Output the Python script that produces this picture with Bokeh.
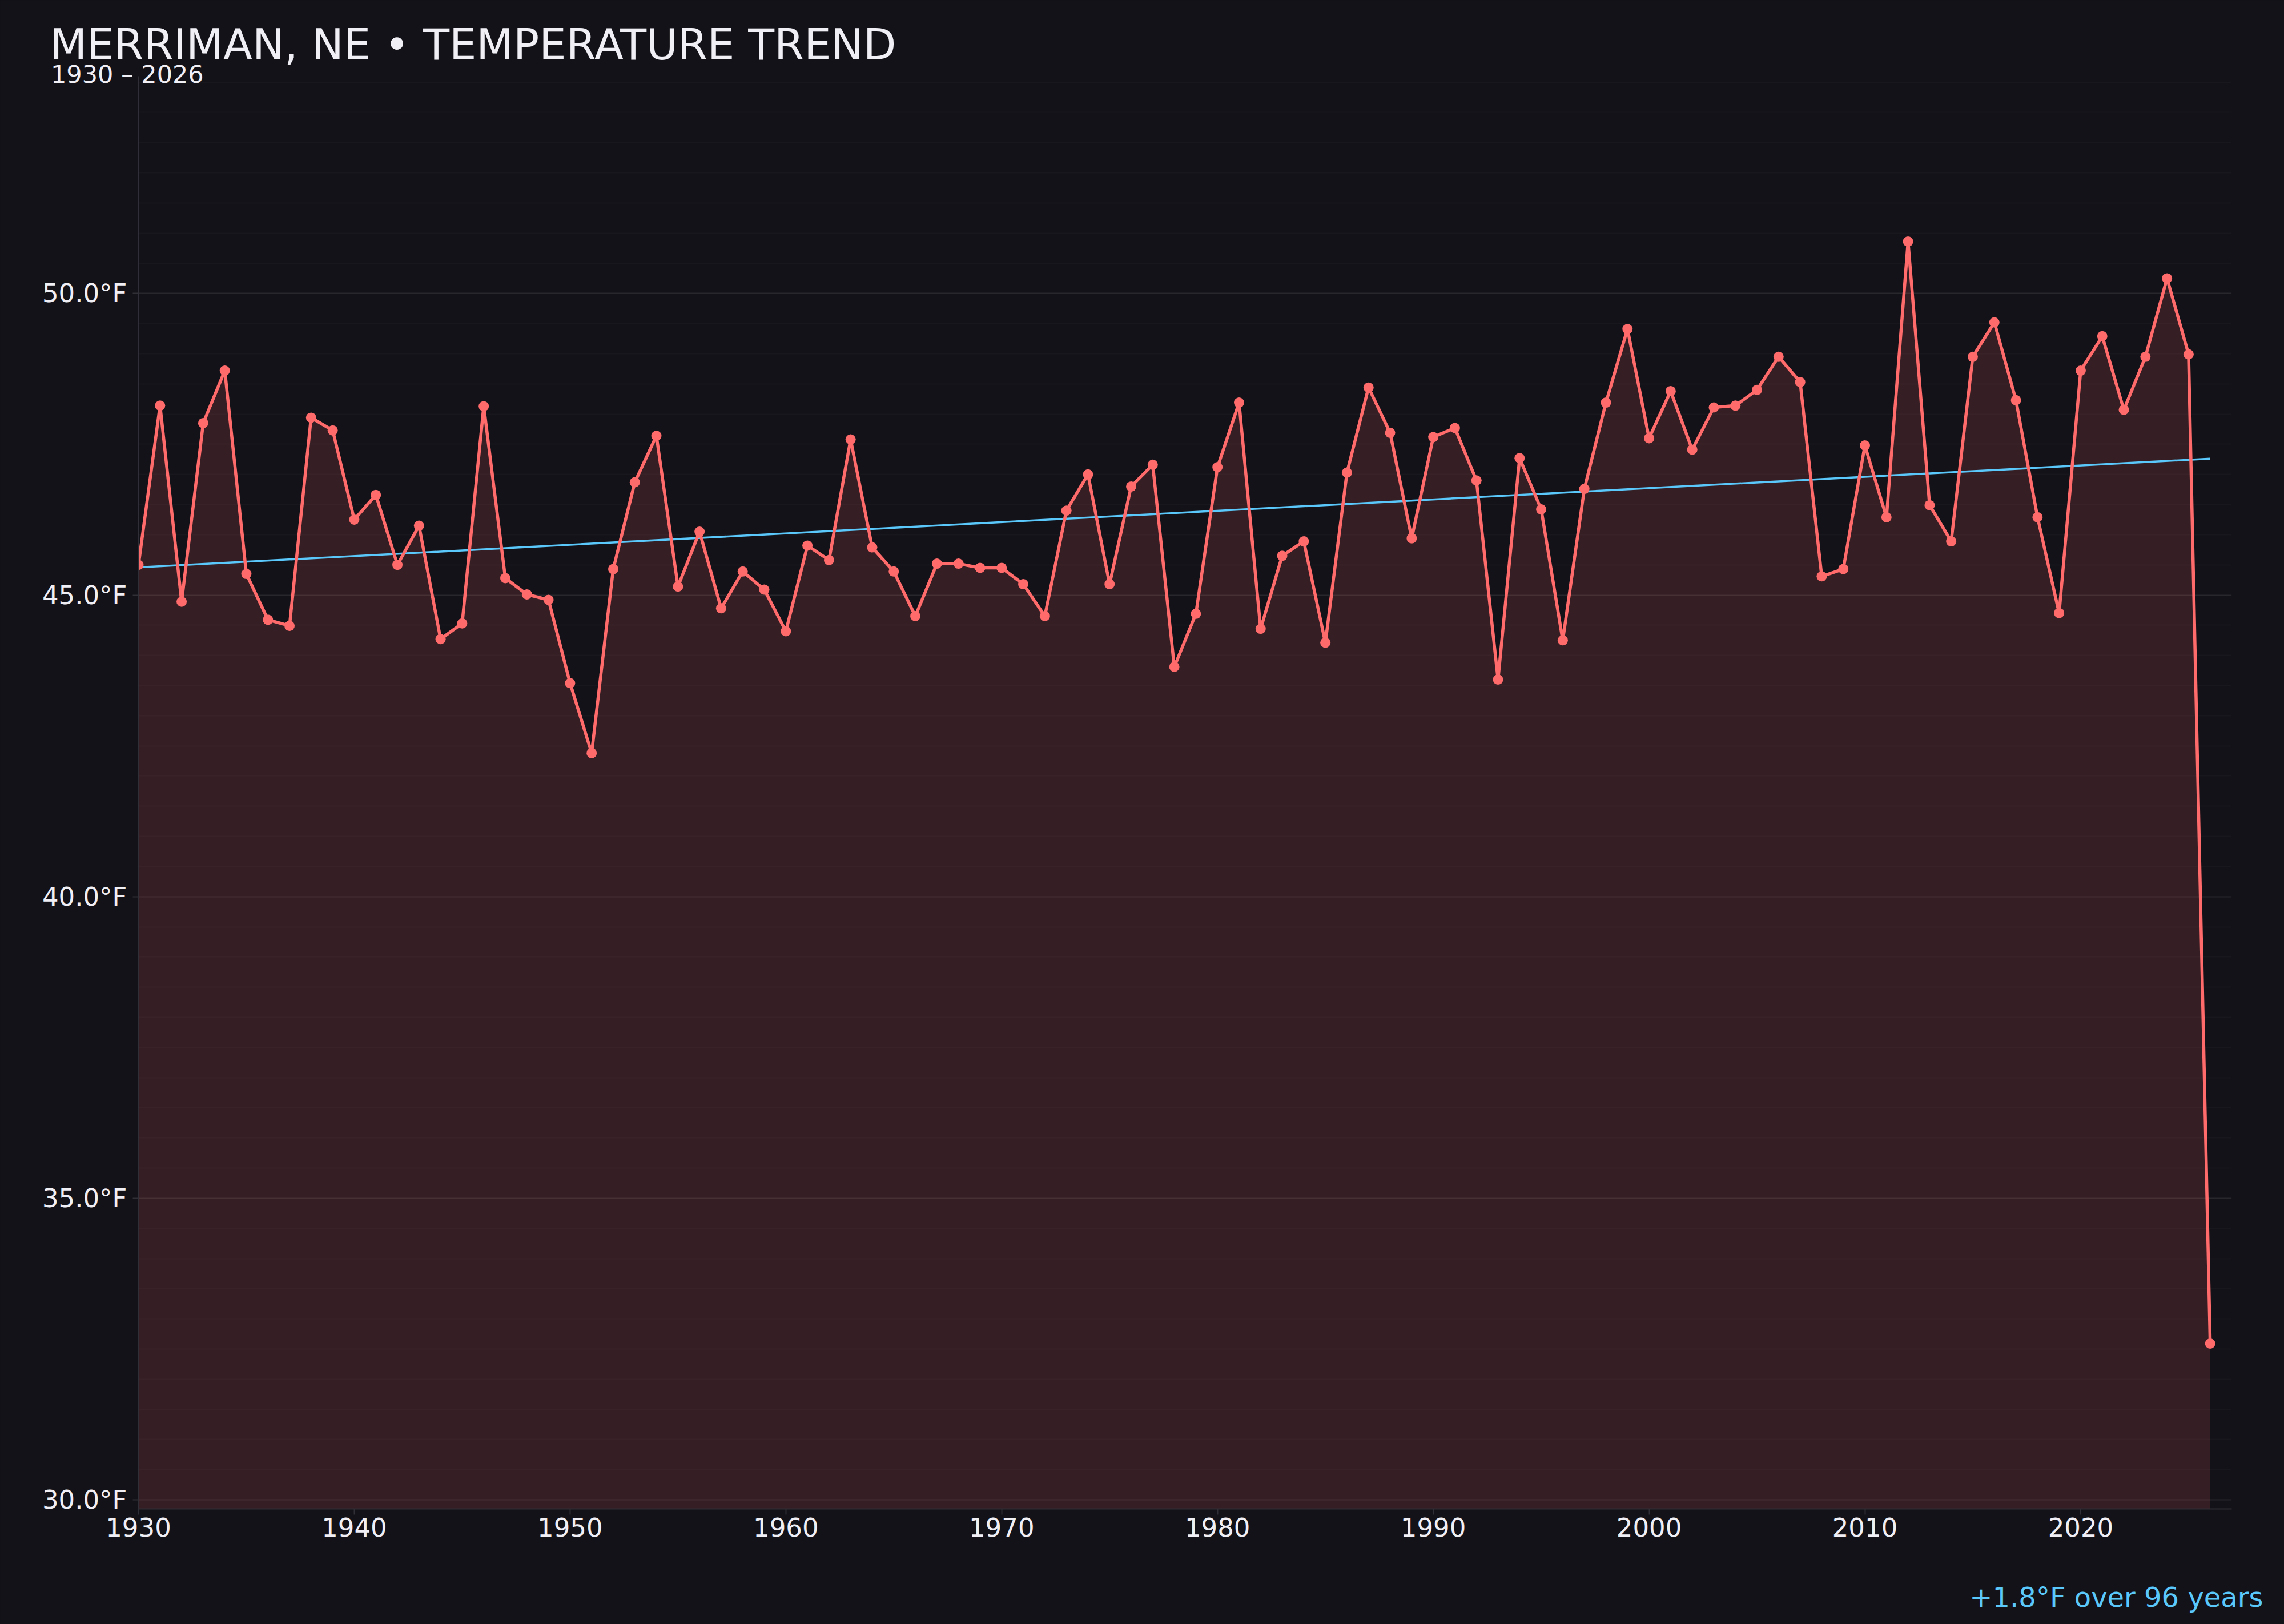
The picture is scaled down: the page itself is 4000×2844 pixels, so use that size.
import numpy as np
from bokeh.plotting import figure
from bokeh.models import (ColumnDataSource, Range1d, SingleIntervalTicker,
                          PrintfTickFormatter, Title)
from bokeh.embed import file_html
from bokeh.resources import INLINE

# ---------------- data ----------------
years = list(range(1930, 2027))
temps = [
    45.50, 48.14, 44.89, 47.85, 48.72, 45.35, 44.59, 44.49, 47.94, 47.73,  # 1930-39
    46.25, 46.66, 45.50, 46.15, 44.27, 44.53, 48.13, 45.28, 45.01, 44.92,  # 1940-49
    43.54, 42.38, 45.43, 46.87, 47.64, 45.14, 46.05, 44.78, 45.39, 45.09,  # 1950-59
    44.40, 45.82, 45.58, 47.58, 45.79, 45.39, 44.65, 45.52, 45.52, 45.45,  # 1960-69
    45.45, 45.18, 44.65, 46.40, 47.00, 45.18, 46.80, 47.16, 43.81, 44.69,  # 1970-79
    47.12, 48.19, 44.44, 45.65, 45.89, 44.21, 47.03, 48.44, 47.69, 45.94,  # 1980-89
    47.62, 47.77, 46.90, 43.60, 47.27, 46.42, 44.25, 46.76, 48.19, 49.41,  # 1990-99
    47.60, 48.38, 47.41, 48.11, 48.14, 48.40, 48.95, 48.53, 45.31, 45.43,  # 2000-09
    47.48, 46.29, 50.86, 46.49, 45.89, 48.95, 49.52, 48.23, 46.29, 44.70,  # 2010-19
    48.72, 49.29, 48.07, 48.95, 50.25, 48.99,                              # 2020-25
    32.59,                                                                 # 2026
]
assert len(years) == len(temps)

y_ticks_interval = 5
x_ticks_interval = 10
title_text = "MERRIMAN, NE \u2022 TEMPERATURE TREND"
subtitle_text = "1930 \u2013 2026"
trend_text = "+1.8\u00b0F over 96 years"

# ---------------- derived ----------------
x = np.array(years, dtype=float)
y = np.array(temps, dtype=float)
slope, intercept = np.polyfit(x, y, 1)
trend_x = [x[0], x[-1]]
trend_y = [slope * x[0] + intercept, slope * x[-1] + intercept]

span = y.max() - y.min()
y_start = y.min() - 0.15 * span
y_end = y.max() + 0.15 * span

BG = "#131218"
LINE = "#ff6b6b"
TREND = "#5ac8fa"
TXT = "#f0eff5"
AXIS = "#302f37"
FONT = "DejaVu Sans"

src = ColumnDataSource(dict(year=years, temp=temps, base=[y_start] * len(years)))

p = figure(width=4000, height=2844, output_backend="svg", toolbar_location=None,
           title=None,
           x_range=Range1d(1930, 2027), y_range=Range1d(y_start, y_end),
           min_border_left=242, min_border_right=92,
           min_border_top=133, min_border_bottom=202)
p.background_fill_color = BG
p.border_fill_color = BG
p.outline_line_color = None

p.varea(x="year", y1="base", y2="temp", source=src, fill_color=LINE, fill_alpha=0.15)
p.line(trend_x, trend_y, line_color=TREND, line_width=3.5)
p.line(x="year", y="temp", source=src, line_color=LINE, line_width=5.5)
p.scatter(x="year", y="temp", source=src, size=18, fill_color=LINE, line_color=None)

# axes
p.xaxis.ticker = SingleIntervalTicker(interval=x_ticks_interval, num_minor_ticks=0)
p.xaxis.formatter = PrintfTickFormatter(format="%d")
p.yaxis.ticker = SingleIntervalTicker(interval=y_ticks_interval, num_minor_ticks=10)
p.yaxis.formatter = PrintfTickFormatter(format="%.1f\u00b0F")
for ax in (p.xaxis, p.yaxis):
    ax.axis_line_color = AXIS
    ax.axis_line_width = 2
    ax.major_tick_line_color = AXIS
    ax.major_tick_line_width = 2
    ax.major_tick_out = 10
    ax.major_tick_in = 0
    ax.minor_tick_line_color = None
    ax.major_label_text_color = TXT
    ax.major_label_text_font = FONT
    ax.major_label_text_font_size = "45px"
p.yaxis.major_label_standoff = 10
p.xaxis.major_label_standoff = 5

# grid
p.xgrid.grid_line_color = None
p.ygrid.grid_line_color = "#ffffff"
p.ygrid.grid_line_alpha = 0.07
p.ygrid.grid_line_width = 2
p.ygrid.minor_grid_line_color = "#ffffff"
p.ygrid.minor_grid_line_alpha = 0.025
p.ygrid.minor_grid_line_width = 2

# titles (closest to the frame first)
p.add_layout(Title(text=subtitle_text, align="left", vertical_align="bottom",
                   offset=-153.5, standoff=-42.8,
                   text_font=FONT, text_font_size="43px", text_color=TXT,
                   text_font_style="normal"), "above")
p.add_layout(Title(text=title_text, align="left", vertical_align="bottom",
                   offset=-155, standoff=6,
                   text_font=FONT, text_font_size="75px", text_color=TXT,
                   text_font_style="normal"), "above")

# footer: spacer then the trend note
p.add_layout(Title(text=" ", align="right", vertical_align="bottom",
                   standoff=60, text_font=FONT, text_font_size="10px",
                   text_color=BG), "below")
p.add_layout(Title(text=trend_text, align="right", vertical_align="bottom",
                   offset=-55, standoff=0,
                   text_font=FONT, text_font_size="48px", text_color=TREND,
                   text_font_style="normal"), "below")

html = file_html(p, INLINE)
html = html.replace("<head>", "<head><style>html,body{background:%s;}</style>" % BG, 1)
open("out.html", "w").write(html)
